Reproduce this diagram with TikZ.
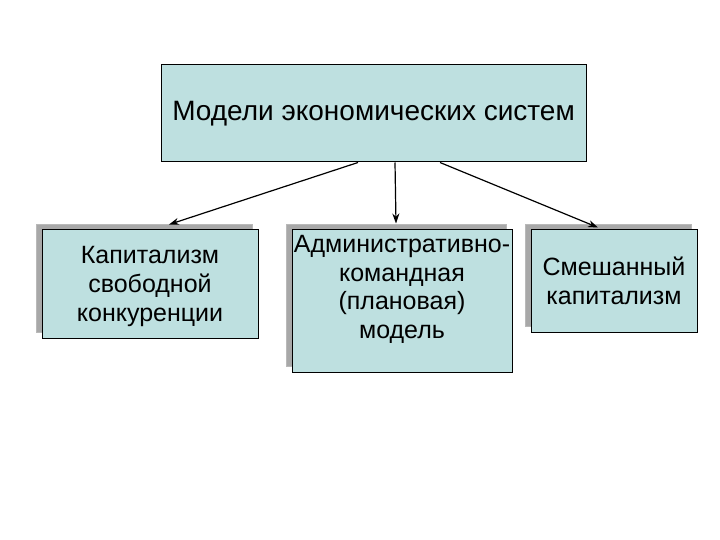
\documentclass[tikz,border=0pt]{standalone}
\usepackage{fontspec}
\setmainfont{Liberation Sans}
\usetikzlibrary{arrows.meta,shadows,calc}
\definecolor{boxfill}{RGB}{190,224,224}
\definecolor{shadowgrey}{RGB}{168,168,168}
\begin{document}
\begin{tikzpicture}[x=1pt,y=-1pt,
  box/.style={draw=black,line width=1pt,fill=boxfill,align=center,inner sep=0pt},
  shadowed/.style={copy shadow={shadow xshift=-6pt,shadow yshift=6pt,fill=shadowgrey,draw=shadowgrey!80!white,line width=0.8pt}},
  conn/.style={line width=1.2pt,-{Stealth[length=10pt,width=7pt]}},
  lowtext/.style={font=\fontsize{25}{29}\selectfont}]
\useasboundingbox (0,0) rectangle (720,540);
\fill[white] (0,0) rectangle (720,540);
\node[box,minimum width=425pt,minimum height=97pt,font=\fontsize{28}{32}\selectfont] (top) at (373.5,113.5) {Модели экономических систем};
\node[box,shadowed,lowtext,minimum width=216pt,minimum height=108pt,text depth=-2pt] (cap) at (150,284) {Капитализм\\свободной\\конкуренции};
\node[box,shadowed,font=\fontsize{25}{28.5}\selectfont,minimum width=220pt,minimum height=142pt,text depth=28pt] (adm) at (402,301) {Административно-\\командная\\(плановая)\\модель};
\node[box,shadowed,lowtext,minimum width=166pt,minimum height=102pt,text depth=-1pt] (mix) at (614,281) {Смешанный\\капитализм};
\draw[conn] ($(top.south)+(-15.5,0)$) -- ($(cap.north)+(19,-5)$);
\draw[conn] ($(top.south)+(21.5,0)$) -- ($(adm.north)+(-6,-6)$);
\draw[conn] ($(top.south)+(66.5,0)$) -- ($(mix.north)+(-16,-2)$);
\end{tikzpicture}
\end{document}
